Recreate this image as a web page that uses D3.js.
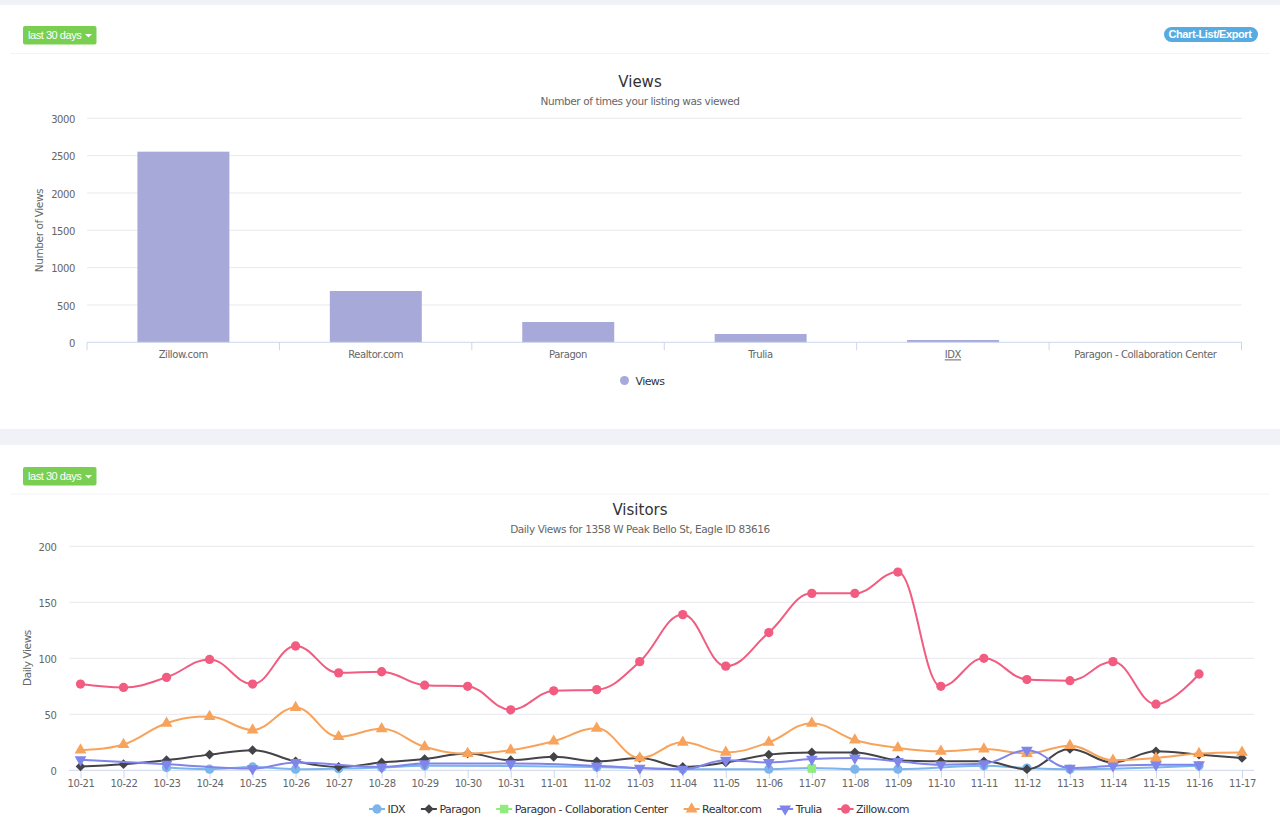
<!DOCTYPE html>
<html><head><meta charset="utf-8">
<script src="https://cdn.jsdelivr.net/npm/d3@7/dist/d3.min.js"></script>
<style>
html,body{margin:0;padding:0;background:#fff;}
svg{display:block;font-family:"DejaVu Sans",sans-serif;}
svg text{letter-spacing:-0.4px;}
.tick text{font-family:"DejaVu Sans",sans-serif;}
</style></head><body>
<svg id="c" width="1280" height="834"></svg>
<script>
const viewCategories = ["Zillow.com","Realtor.com","Paragon","Trulia","IDX","Paragon - Collaboration Center"];
const viewValues = [2553,687,272,111,31,2];
const viewTicks = [0,500,1000,1500,2000,2500,3000];
const days = ["10-21","10-22","10-23","10-24","10-25","10-26","10-27","10-28","10-29","10-30","10-31","11-01","11-02","11-03","11-04","11-05","11-06","11-07","11-08","11-09","11-10","11-11","11-12","11-13","11-14","11-15","11-16","11-17"];
const dailyTicks = [0,50,100,150,200];
const idx = [null,null,2.5,1,3,1,1.5,2.5,4,null,null,null,3,null,1,null,1,2,1,1,null,4,2,1,null,null,4,null];
const paragon = [3.5,5.5,9,14,18,8,3,7,10,15,9,12,8,11,3,7,14,16,16,9,8,8,1,19,7,17,14,11];
const collab = [null,null,null,null,null,null,null,null,null,null,null,null,null,null,null,null,null,1.5,null,null,null,null,null,null,null,null,null,null];
const realtor = [18,23,42,48,36,56,30,37,21,15,18,26,37.5,11,25,16,25,42,27,20,17,19,15,22,9,11,15,16];
const trulia = [9.5,null,5.5,null,1.5,7,null,3,6,null,6,null,4,2,1,9,7,10,11,8,5,6,18,2,4,5,5,null];
const zillow = [77,74,83,99,77,111,87,88,76,75,54,71,72,97,139,93,123,158,158,177,75,100,81,80,97,59,86,null];
const seriesNames = ["IDX","Paragon","Paragon - Collaboration Center","Realtor.com","Trulia","Zillow.com"];
const seriesValues = [idx,paragon,collab,realtor,trulia,zillow];
const seriesColors = ["#7cb5ec","#434348","#90ed7d","#f7a35c","#8085e9","#f15c80"];
const seriesShapes = ["circle","diamond","square","triangle","down","circle"];

const svg = d3.select("#c");
const GRID="#e9e9ee", AXIS="#ccd6eb", TICK="#666", DARK="#333";

// Spline: horizontal-biased handles with overshoot clamped to neighbouring points
function Spline(ctx){this.c=ctx;}
Spline.prototype={
  areaStart(){},areaEnd(){},
  lineStart(){this.p=[];},
  point(x,y){this.p.push([+x,+y]);},
  lineEnd(){
    const p=this.p,c=this.c; if(!p.length) return;
    c.moveTo(p[0][0],p[0][1]);
    let lastR=p[0];
    for(let i=1;i<p.length;i++){
      const [x,y]=p[i];
      let L=[x,y],R=[x,y];
      if(i<p.length-1){
        const a=p[i-1],b=p[i+1],k=1.5,d=2.5;
        let lx=(k*x+a[0])/d,ly=(k*y+a[1])/d,rx=(k*x+b[0])/d,ry=(k*y+b[1])/d;
        const corr=((ry-ly)*(rx-x))/(rx-lx)+y-ry;
        ly+=corr;ry+=corr;
        if(ly>a[1]&&ly>y){ly=Math.max(a[1],y);ry=2*y-ly;}
        else if(ly<a[1]&&ly<y){ly=Math.min(a[1],y);ry=2*y-ly;}
        if(ry>b[1]&&ry>y){ry=Math.max(b[1],y);ly=2*y-ry;}
        else if(ry<b[1]&&ry<y){ry=Math.min(b[1],y);ly=2*y-ry;}
        L=[lx,ly];R=[rx,ry];
      }
      c.bezierCurveTo(lastR[0],lastR[1],L[0],L[1],x,y);
      lastR=R;
    }
  }
};
const curveSpline=ctx=>new Spline(ctx);

function symbolPath(shape,cx,cy){
  const g={circle:d3.symbolCircle,diamond:d3.symbolDiamond2,square:d3.symbolSquare,triangle:d3.symbolTriangle,down:d3.symbolTriangle}[shape];
  const size={circle:68,diamond:60,square:70,triangle:60,down:60}[shape];
  return {d:d3.symbol().type(g).size(size)(),t:`translate(${cx},${cy})`+(shape==="down"?" rotate(180)":"")};
}
function marker(sel,shape,color,cx,cy){
  const s=symbolPath(shape,cx,cy);
  sel.append("path").attr("d",s.d).attr("transform",s.t).attr("fill",color);
}
function styleAxisText(g,size){g.selectAll("text").attr("fill",TICK).style("font-size",size+"px");g.select(".domain").remove();}

// Page chrome
svg.append("rect").attr("width",1280).attr("height",5).attr("fill","#f0f2f7");
svg.append("rect").attr("y",429).attr("width",1280).attr("height",16).attr("fill","#f0f2f7");
[53.5,494].forEach(y=>svg.append("line").attr("x1",10).attr("x2",1270).attr("y1",y).attr("y2",y).attr("stroke","#f3f4f7").attr("stroke-width",1));
[26,467].forEach(y=>{
  const b=svg.append("g").attr("transform",`translate(23,${y})`);
  b.append("rect").attr("width",73.5).attr("height",18.5).attr("rx",2).attr("fill","#78cf52");
  b.append("text").text("last 30 days").attr("x",5).attr("y",13).attr("fill","#fff").style("font-family","'Liberation Sans',Arial,sans-serif").style("font-size","11px").style("letter-spacing","-0.45px");
  b.append("path").attr("d","M62,8L69,8L65.5,11.5Z").attr("fill","#fff");
});
const ex=svg.append("g").attr("transform","translate(1164,27)");
ex.append("rect").attr("width",94).attr("height",15).attr("rx",7.5).attr("fill","#55ace3");
ex.append("text").text("Chart-List/Export").attr("x",46).attr("y",11).attr("text-anchor","middle").attr("fill","#fff").style("font-family","'Liberation Sans',Arial,sans-serif").style("font-weight","bold").style("font-size","11px").style("letter-spacing","-0.4px");

function titles(t,s,ty,sy){
  svg.append("text").text(t).attr("x",640).attr("y",ty).attr("text-anchor","middle").attr("fill",DARK).style("font-size","15px").style("letter-spacing","0");
  svg.append("text").text(s).attr("x",640).attr("y",sy).attr("text-anchor","middle").attr("fill",TICK).style("font-size","10.5px");
}
const fmt=d3.format("d");

// ---- Views bar chart
titles("Views","Number of times your listing was viewed",86.5,105);
const x1=d3.scaleBand().domain(viewCategories).range([87,1241.5]).paddingInner(0).paddingOuter(0);
const y1=d3.scaleLinear().domain([0,3000]).range([342.3,118.3]);
const gy1=svg.append("g").attr("transform","translate(75,1)").call(d3.axisLeft(y1).tickValues(viewTicks).tickFormat(fmt).tickSize(0).tickPadding(0));
styleAxisText(gy1,10);
svg.append("g").selectAll("line").data(viewTicks.filter(d=>d>0)).join("line")
  .attr("x1",87).attr("x2",1241.5).attr("y1",d=>y1(d)).attr("y2",d=>y1(d)).attr("stroke",GRID);
svg.append("g").selectAll("rect").data(viewCategories).join("rect")
  .attr("x",d=>x1(d)+x1.bandwidth()*0.262).attr("width",x1.bandwidth()*0.478)
  .attr("y",(d,i)=>y1(viewValues[i])).attr("height",(d,i)=>y1(0)-y1(viewValues[i]))
  .attr("fill","#a7aad9");
svg.append("line").attr("x1",87).attr("x2",1241.5).attr("y1",y1(0)).attr("y2",y1(0)).attr("stroke",AXIS);
svg.append("g").selectAll("line").data(viewCategories.concat([null])).join("line")
  .attr("x1",(d,i)=>87+i*x1.step()).attr("x2",(d,i)=>87+i*x1.step()).attr("y1",y1(0)).attr("y2",y1(0)+8).attr("stroke",AXIS);
const gx1=svg.append("g").attr("transform",`translate(0,${y1(0)})`).call(d3.axisBottom(x1).tickSize(0).tickPadding(9));
styleAxisText(gx1,10);
gx1.selectAll("text").filter(d=>d==="IDX").style("text-decoration","underline");
svg.append("text").text("Number of Views").attr("transform","translate(43,230.5) rotate(-90)").attr("text-anchor","middle").attr("fill",TICK).style("font-size","10.5px");
svg.append("circle").attr("cx",624.5).attr("cy",380.5).attr("r",4.5).attr("fill","#a7aad9");
svg.append("text").text("Views").attr("x",635.5).attr("y",385).attr("fill",DARK).style("font-size","11px").style("letter-spacing","-0.6px");

// ---- Visitors line chart
titles("Visitors","Daily Views for 1358 W Peak Bello St, Eagle ID 83616",514.5,533);
const x2=d3.scalePoint().domain(days).range([80.5,1242]);
const y2=d3.scaleLinear().domain([0,200]).range([770.3,546.3]);
const gy2=svg.append("g").attr("transform","translate(56.5,1)").call(d3.axisLeft(y2).tickValues(dailyTicks).tickSize(0).tickPadding(0));
styleAxisText(gy2,10);
svg.append("g").selectAll("line").data(dailyTicks.filter(d=>d>0)).join("line")
  .attr("x1",69).attr("x2",1254).attr("y1",d=>y2(d)).attr("y2",d=>y2(d)).attr("stroke",GRID);
svg.append("line").attr("x1",69).attr("x2",1254).attr("y1",y2(0)).attr("y2",y2(0)).attr("stroke",AXIS);
const gx2=svg.append("g").attr("transform",`translate(0,${y2(0)})`).call(d3.axisBottom(x2).tickSize(8).tickPadding(2));
gx2.selectAll("line").attr("stroke",AXIS);
styleAxisText(gx2,10);
svg.append("text").text("Daily Views").attr("transform","translate(31,658) rotate(-90)").attr("text-anchor","middle").attr("fill",TICK).style("font-size","10.5px");

const line=d3.line().x(d=>x2(d.day)).y(d=>y2(d.v)).curve(curveSpline);
seriesNames.forEach((name,i)=>{
  const pts=seriesValues[i].map((v,j)=>({day:days[j],v})).filter(d=>d.v!==null);
  const g=svg.append("g");
  g.append("path").attr("d",line(pts)).attr("fill","none").attr("stroke",seriesColors[i]).attr("stroke-width",2);
  pts.forEach(p=>marker(g,seriesShapes[i],seriesColors[i],x2(p.day),y2(p.v)));
});

// legend
const lg=svg.append("g");
let lx=369;
seriesNames.forEach((name,i)=>{
  lg.append("line").attr("x1",lx).attr("x2",lx+16).attr("y1",809).attr("y2",809).attr("stroke",seriesColors[i]).attr("stroke-width",2);
  marker(lg,seriesShapes[i],seriesColors[i],lx+8,809);
  const t=lg.append("text").text(name).attr("x",lx+18.5).attr("y",813).attr("fill",DARK).style("font-size","11px").style("letter-spacing","-0.55px");
  lx+=18.5+t.node().getComputedTextLength()+15.8;
});
</script>
</body></html>
